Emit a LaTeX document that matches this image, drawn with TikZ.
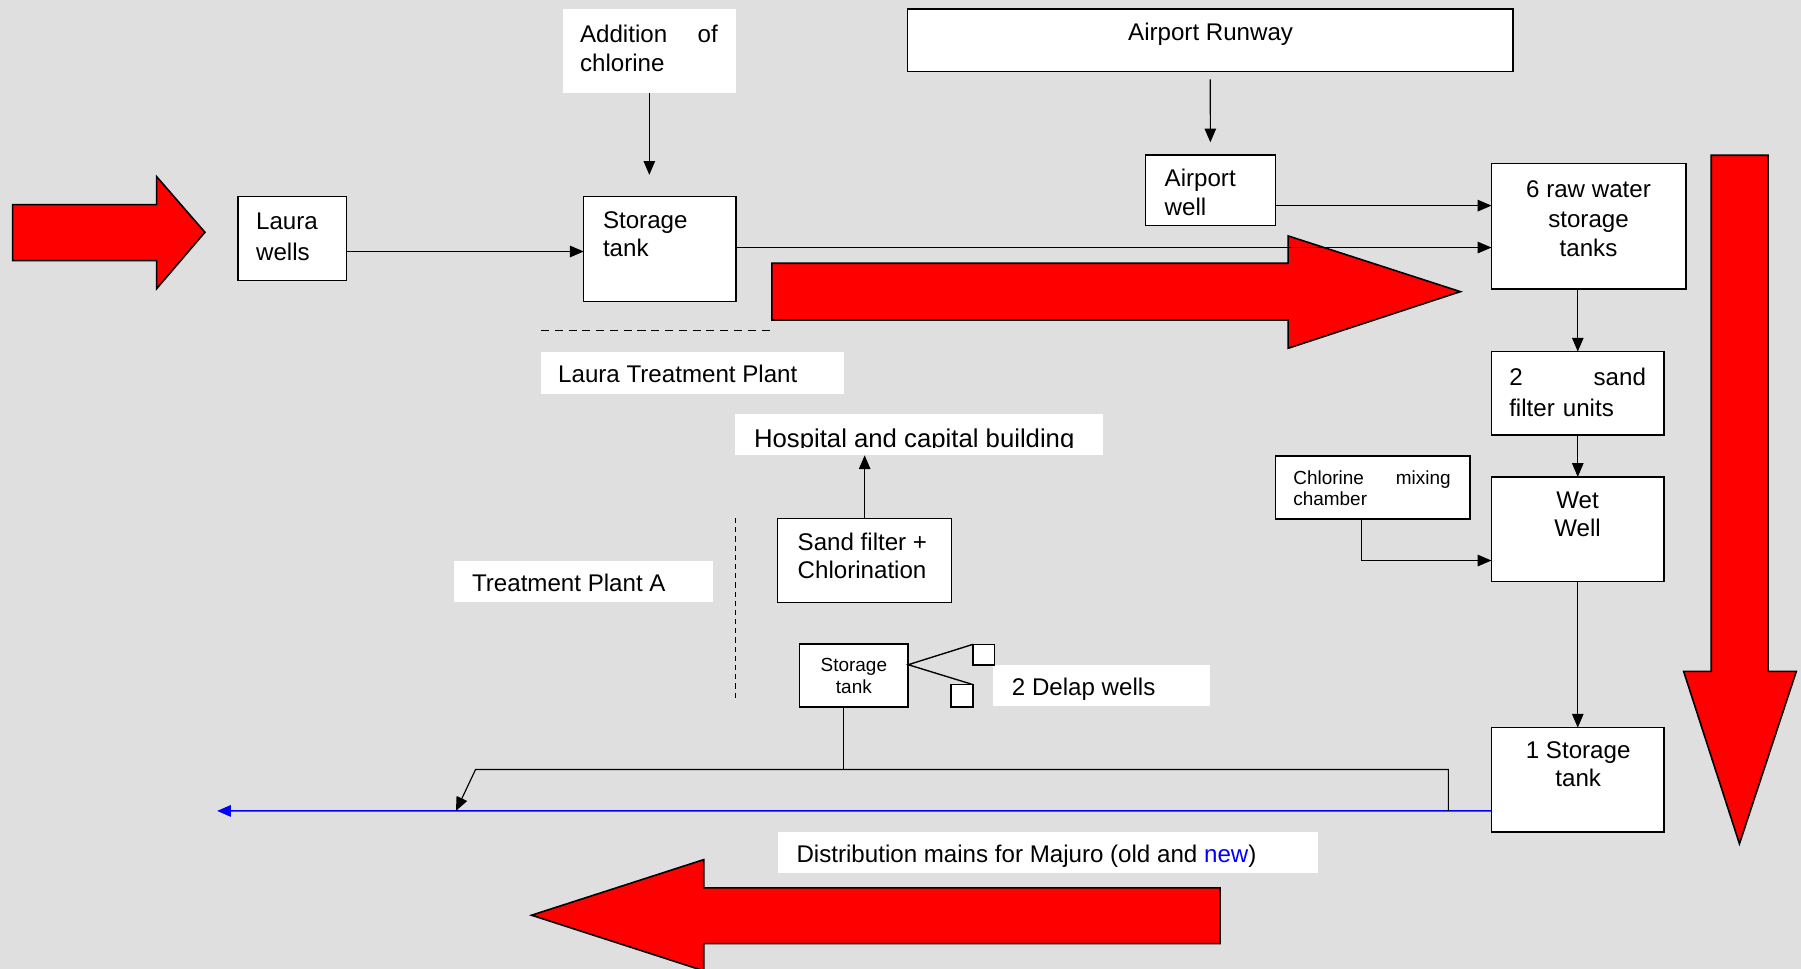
\documentclass[tikz,border=0pt]{standalone}
\usepackage{fontspec}
\setmainfont{Liberation Sans}
\usetikzlibrary{arrows.meta}
\definecolor{bg}{RGB}{223,223,223}
\newcommand{\myfs}[2]{\fontsize{#1}{#2}\selectfont}
\begin{document}
\begin{tikzpicture}[x=1pt,y=-1pt,
  box/.style={draw=black, fill=white, line width=1.3pt, inner sep=0pt, outer sep=0pt, anchor=north west},
  lab/.style={fill=white, inner sep=0pt, outer sep=0pt, anchor=north west},
  txt/.style={inner sep=0pt, outer sep=0pt, font=\myfs{21}{#1}},
  stxt/.style={inner sep=0pt, outer sep=0pt, font=\myfs{16.5}{#1}},
  arr/.style={-{Triangle[length=12pt,width=10pt]}, line width=1pt},
  plain/.style={line width=1pt},
  bigarrow/.style={fill=red, draw=black, line width=1.4pt, line join=miter},
  sq/.style={draw=black, fill=white, line width=1.2pt, inner sep=0pt, outer sep=0pt, anchor=north west}
]
\fill[bg] (0,0) rectangle (1568,843.6);
\useasboundingbox (0,0) rectangle (1568,843.6);

% big red arrows
\draw[bigarrow] (11,178.2) -- (136.4,178.2) -- (136.4,153.8) -- (178.4,202.2) -- (136.4,251.3) -- (136.4,226.9) -- (11,226.9) -- cycle;
\draw[bigarrow] (672,229.2) -- (1121.5,229.2) -- (1121.5,205.4) -- (1271.4,253.9) -- (1121.5,303.2) -- (1121.5,278.6) -- (672,278.6) -- cycle;
\draw[bigarrow] (1489.8,135.2) -- (1539.3,135.2) -- (1539.3,584.5) -- (1563.9,584.5) -- (1514.4,734.6) -- (1465.8,584.5) -- (1489.8,584.5) -- cycle;
\draw[bigarrow] (1062.2,773) -- (612.7,773) -- (612.7,748.4) -- (462.8,796.8) -- (612.7,845.2) -- (612.7,821.5) -- (1062.2,821.5) -- cycle;

% white labels
\node[lab, minimum width=150.6pt, minimum height=72.9pt] (addlab) at (490,7.8) {};
\node[lab, minimum width=263.6pt, minimum height=36.3pt] (ltp) at (471,306.4) {};
\node[lab, minimum width=320pt, minimum height=35.6pt] (hosp) at (640,360.8) {};
\node[lab, minimum width=226pt, minimum height=35.7pt] (tpa) at (395,488.7) {};
\node[lab, minimum width=189.2pt, minimum height=36.1pt] (delap) at (864.6,578.9) {};
\node[lab, minimum width=470.3pt, minimum height=36.3pt] (dist) at (677,724) {};

% boxes
\node[box, minimum width=94.5pt, minimum height=73.1pt] (laura) at (207.3,171.2) {};
\node[box, minimum width=132.4pt, minimum height=91.4pt] (stor) at (508.2,171.2) {};
\node[box, minimum width=527.3pt, minimum height=54.6pt] (runway) at (790,7.8) {};
\node[box, minimum width=113pt, minimum height=61.5pt] (awell) at (997.3,134.9) {};
\node[box, minimum width=169.2pt, minimum height=109.1pt] (raw) at (1298.5,142.5) {};
\node[box, minimum width=150.3pt, minimum height=72.8pt] (sand2) at (1298.5,306.1) {};
\node[box, minimum width=169.3pt, minimum height=54.6pt] (chlor) at (1110.3,397.2) {};
\node[box, minimum width=150.3pt, minimum height=91pt] (wet) at (1298.5,415.2) {};
\node[box, minimum width=150.3pt, minimum height=90.7pt] (stor1) at (1298.5,633.5) {};
\node[box, minimum width=151.4pt, minimum height=72.9pt] (sandf) at (677.1,451.5) {};
\node[box, minimum width=94.5pt, minimum height=55pt] (stors) at (696.2,560.5) {};
\node[sq, minimum width=19pt, minimum height=18pt] (wellA) at (847,561) {};
\node[sq, minimum width=19pt, minimum height=19.5pt] (wellB) at (828,596) {};

% texts
\node[txt=27, anchor=north west, align=left] (t-laura) at (223,185) {Laura\\wells};
\node[txt=25.6, anchor=north west, text width=120pt, align=left] (t-add) at (505,21.8) {Addition\hfill of\\chlorine};
\node[txt=24, anchor=north west, align=left] (t-stor) at (525,184.7) {Storage\\tank};
\node[txt=26, anchor=base west] (t-ltp) at (486,333.3) {Laura Treatment Plant};
\node[txt=26, anchor=base] (t-runway) at (1054,35.4) {Airport Runway};
\node[txt=24.7, anchor=north west, align=left] (t-awell) at (1014,147.5) {Airport\\well};
\node[txt=26, anchor=north, align=center] (t-raw) at (1383,157) {6 raw water\\storage\\tanks};
\node[txt=27, anchor=north west, text width=119pt, align=left] (t-sand2) at (1314,320) {2\hfill sand\\filter units};
\node[stxt=18.4, anchor=north west, text width=137pt, align=left] (t-chlor) at (1126,409.6) {Chlorine\hfill mixing\\chamber};
\node[txt=24.6, anchor=north, align=center] (t-wet) at (1373.5,428) {Wet\\Well};
\node[txt=24.4, anchor=north, align=center] (t-stor1) at (1374,646) {1 Storage\\tank};
\node[txt=24, anchor=north west, align=left] (t-sandf) at (694.5,464) {Sand filter +\\Chlorination};
\node[stxt=19, anchor=north, align=center] (t-stors) at (743.4,573.2) {Storage\\tank};
\node[txt=26, anchor=base west] (t-delap) at (881,605.5) {2 Delap wells};
\node[txt=26, anchor=base west] (t-dist) at (693.5,750.8) {Distribution mains for Majuro (old and \textcolor{blue}{new})};
\node[txt=26, anchor=base west] (t-tpa) at (411,515) {Treatment Plant A};
\begin{scope}
\clip (640,360.8) rectangle (960,390);
\node[inner sep=0pt, outer sep=0pt, font=\myfs{22.4}{26}, anchor=base west] (t-hosp) at (656.5,389.5) {Hospital and capital building};
\end{scope}

% dashed separators
\draw[line width=1.2pt, dash pattern=on 7pt off 5pt] (471,288) -- (673,288);
\draw[line width=1pt, dash pattern=on 4.5pt off 3.5pt] (640,451) -- (640,610);

% connectors
\draw[arr, shorten >=19pt] (addlab.south) -- (addlab.south |- stor.north);
\draw[arr, shorten <=6.6pt, shorten >=11pt] (runway.south) -- (awell.north);
\draw[arr] ([yshift=-11.2pt]laura.east) -- ([yshift=-11.2pt]laura.east -| stor.west);
\draw[arr] ([yshift=1.4pt]stor.east) -- ([yshift=1.4pt]stor.east -| raw.west);
\draw[arr] ([yshift=-13.35pt]awell.east) -- ([yshift=-13.35pt]awell.east -| raw.west);
\draw[arr] (sand2.north |- raw.south) -- (sand2.north);
\draw[arr] (sand2.south) -- (wet.north);
\draw[arr] (wet.south) -- (stor1.north);
\draw[arr] ([xshift=-9.5pt]chlor.south) |- ([yshift=-27.3pt]wet.west);
\draw[arr] (sandf.north) -- (sandf.north |- hosp.south);

\coordinate (blueend) at (189,706);
\draw[-{Triangle[length=12pt,width=10pt]}, blue, line width=1.2pt] ([yshift=-27.15pt]stor1.west) -- (blueend);

\coordinate (brR) at (1261,706);
\coordinate (brL) at (414,670);
\coordinate (brT) at (397,706);
\draw[arr] (brR) |- (brL) -- (brT);
\draw[plain] ([xshift=-9.4pt]stors.south) -- ([xshift=-9.4pt]stors.south |- brL);

\draw[line width=1.2pt] (wellA.north west) -- ([yshift=9.3pt]stors.east) -- (wellB.north east);
\end{tikzpicture}
\end{document}
